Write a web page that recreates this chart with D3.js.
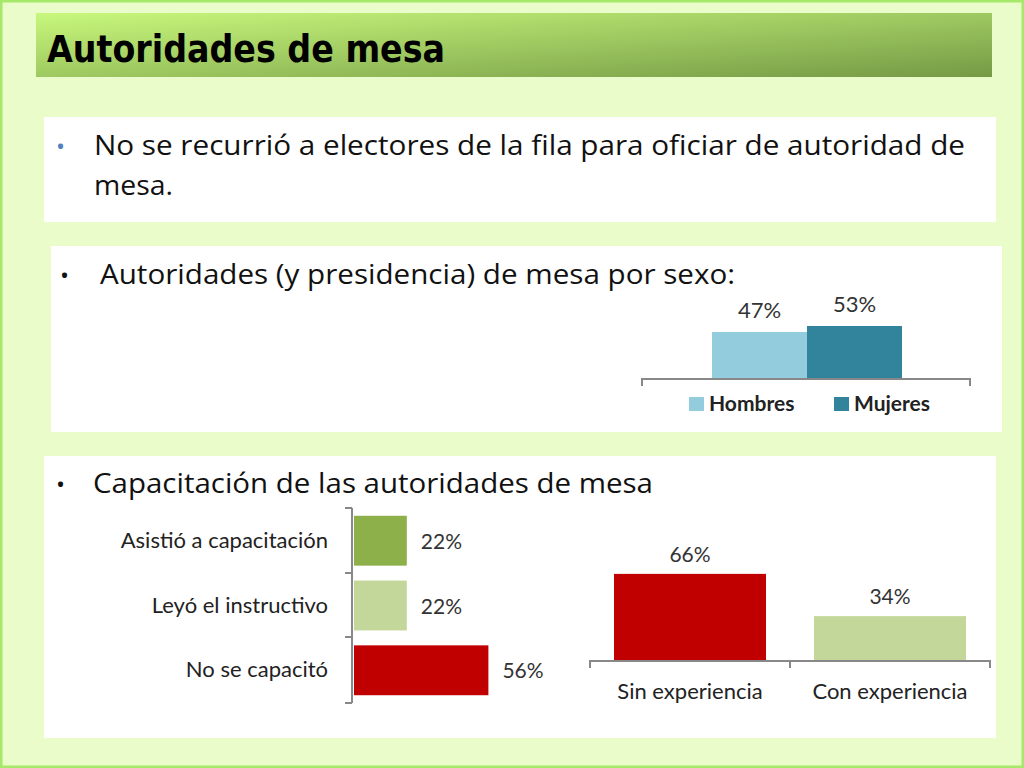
<!DOCTYPE html><html><head><meta charset="utf-8">
<script src="https://cdn.jsdelivr.net/npm/d3@7"></script>
<style>body{margin:0;background:#e9fcc9}</style></head><body>
<script>
const sexCats=["Hombres","Mujeres"], sexVals=[47,53], sexColors=["#93cddd","#31849b"];
const capCats=["Asistió a capacitación","Leyó el instructivo","No se capacitó"], capVals=[22,22,56], capColors=["#8db04b","#c4d79b","#c00000"];
const expCats=["Sin experiencia","Con experiencia"], expVals=[66,34], expColors=["#c00000","#c4d79b"];
const F="'Open Sans','Noto Sans',sans-serif", LF="Lato,'Open Sans',sans-serif";
const svg=d3.select("body").append("svg").attr("width",1024).attr("height",768);
const defs=svg.append("defs");
const g=defs.append("linearGradient").attr("id","tg").attr("x1","0").attr("y1","0").attr("x2","1").attr("y2","1");
g.append("stop").attr("offset","0").attr("stop-color","#c8f87c");g.append("stop").attr("offset","1").attr("stop-color","#759a45");
svg.append("rect").attr("x",1).attr("y",1).attr("width",1022).attr("height",766).attr("fill","#e9fcc9").attr("stroke","#a6e86a").attr("stroke-width",3);
svg.append("rect").attr("x",36).attr("y",13).attr("width",956).attr("height",64).attr("fill","url(#tg)");
svg.append("text").attr("x",47).attr("y",62).text("Autoridades de mesa").attr("font-family","'DejaVu Sans Condensed','Open Sans',sans-serif").attr("font-weight","bold").attr("font-size",37).attr("fill","#000").attr("textLength",398).attr("lengthAdjust","spacingAndGlyphs");
[[44,117,952,105],[51,246,951,186],[44,456,952,282]].forEach(b=>svg.append("rect").attr("x",b[0]).attr("y",b[1]).attr("width",b[2]).attr("height",b[3]).attr("fill","#fff"));
function txt(x,y,s,size,opt={}){const t=svg.append("text").attr("x",x).attr("y",y).text(s).attr("font-family",opt.f||F).attr("font-size",size).attr("fill",opt.c||"#111").attr("text-anchor",opt.a||"start");if(opt.len)t.attr("textLength",opt.len).attr("lengthAdjust","spacingAndGlyphs");return t;}
txt(56,155,"•",24,{c:"#4f81bd"});
txt(94,155,"No se recurrió a electores de la fila para oficiar de autoridad de",28,{len:871});
txt(94,195,"mesa.",28,{len:79});
txt(60,284,"•",24);
txt(100,284,"Autoridades (y presidencia) de mesa por sexo:",28,{len:635});
txt(56,493,"•",24);
txt(93,493,"Capacitación de las autoridades de mesa",28,{len:560});
// sex chart
const xs=d3.scaleBand().domain(sexCats).range([712,902]).padding(0);
const ys=d3.scaleLinear().domain([0,100]).range([379,279]);
sexCats.forEach((c,i)=>{
 svg.append("rect").attr("x",xs(c)).attr("y",ys(sexVals[i])).attr("width",xs.bandwidth()).attr("height",379-ys(sexVals[i])).attr("fill",sexColors[i]);
 txt(xs(c)+xs.bandwidth()/2,ys(sexVals[i])-14,sexVals[i]+"%",22,{a:"middle",f:LF,c:"#333"});
});
svg.append("path").attr("d","M642,386V379H970V386").attr("fill","none").attr("stroke","#888").attr("stroke-width",2);
[[689,"Hombres"],[834,"Mujeres"]].forEach((l,i)=>{
 svg.append("rect").attr("x",l[0]).attr("y",397).attr("width",15).attr("height",14).attr("fill",sexColors[i]);
 txt(l[0]+20,411,l[1],21,{f:LF,c:"#222"}).attr("font-weight","bold");
});
// cap chart
const yc=d3.scaleBand().domain(capCats).range([508,703]).paddingInner(0.23).paddingOuter(0.12);
const xc=d3.scaleLinear().domain([0,100]).range([354,594]);
capCats.forEach((c,i)=>{
 svg.append("rect").attr("x",354).attr("y",yc(c)).attr("width",xc(capVals[i])-354).attr("height",yc.bandwidth()).attr("fill",capColors[i]);
 txt(xc(capVals[i])+14,yc(c)+yc.bandwidth()/2+8,capVals[i]+"%",21,{f:LF,c:"#333"});
 txt(328,yc(c)+yc.bandwidth()/2+7,c,22,{f:LF,c:"#222",a:"end"});
});
let p="M352,508V703";[508,573,637,703].forEach(y=>p+=`M345,${y}H352`);
svg.append("path").attr("d",p).attr("fill","none").attr("stroke","#888").attr("stroke-width",2);
// exp chart
const xe=d3.scaleBand().domain(expCats).range([590,990]).paddingInner(0.24).paddingOuter(0.12);
const ye=d3.scaleLinear().domain([0,100]).range([661,529]);
expCats.forEach((c,i)=>{
 svg.append("rect").attr("x",xe(c)).attr("y",ye(expVals[i])).attr("width",xe.bandwidth()).attr("height",661-ye(expVals[i])).attr("fill",expColors[i]);
 txt(xe(c)+xe.bandwidth()/2,ye(expVals[i])-12,expVals[i]+"%",21,{a:"middle",f:LF,c:"#333"});
 txt(xe(c)+xe.bandwidth()/2,699,c,22,{a:"middle",f:LF,c:"#222"});
});
svg.append("path").attr("d","M590,668V661H990V668M790,661V668").attr("fill","none").attr("stroke","#888").attr("stroke-width",2);
</script></body></html>
